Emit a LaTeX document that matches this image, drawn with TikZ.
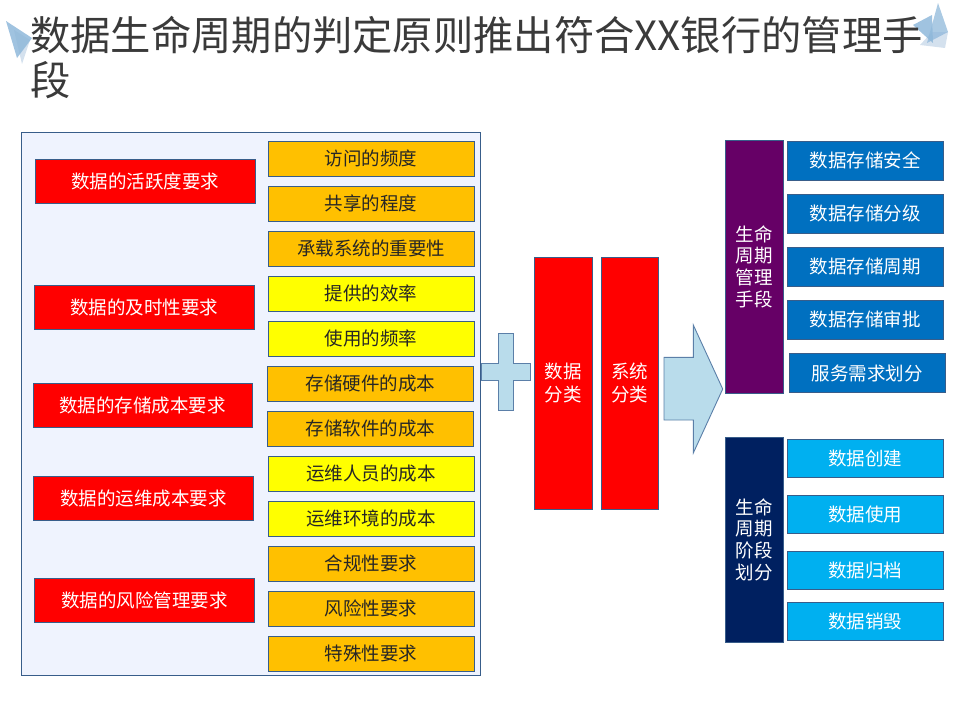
\documentclass[tikz,border=0pt]{standalone}
\usepackage{fontspec}
\setmainfont{Noto Sans CJK SC}
\definecolor{bordc}{HTML}{385D8A}
\definecolor{panelc}{HTML}{EFF3FE}
\definecolor{redc}{HTML}{FF0000}
\definecolor{orangec}{HTML}{FFC000}
\definecolor{yellowc}{HTML}{FFFF00}
\definecolor{purplec}{HTML}{660066}
\definecolor{bluec}{HTML}{0070C0}
\definecolor{navyc}{HTML}{002060}
\definecolor{cyanc}{HTML}{00B0F0}
\definecolor{shapec}{HTML}{B9DCEB}
\definecolor{shapeb}{HTML}{5B7FA8}
\definecolor{titlec}{HTML}{3A3A3A}
\definecolor{tri1}{HTML}{8FB8DA}
\definecolor{tri2}{HTML}{C9D9EA}
\begin{document}
\begin{tikzpicture}[x=1pt,y=-1pt,
  box/.style={draw=bordc, line width=0.9pt, inner sep=0pt, rectangle,
     font=\fontsize{18.5}{22}\selectfont},
  reqbox/.style={box, fill=redc, text=white, minimum width=220pt, minimum height=44pt},
  itembox/.style={box, text=black!85, minimum width=206pt, minimum height=35pt},
  orbox/.style={itembox, fill=orangec},
  yebox/.style={itembox, fill=yellowc},
  tallbox/.style={box, text=white, align=center, font=\fontsize{18.5}{23.3}\selectfont},
  sidebox/.style={box, text=white, align=center, minimum width=58pt, font=\fontsize{18.5}{21.7}\selectfont},
  bluebox/.style={box, fill=bluec, text=white, minimum width=156pt, minimum height=39pt},
  cyanbox/.style={box, fill=cyanc, text=white, minimum width=156pt, minimum height=38pt},
  bigshape/.style={fill=shapec, draw=shapeb, line width=0.9pt},
  titlefont/.style={font=\fontsize{40.3}{46}\selectfont, inner sep=0pt, anchor=base west}
]
\useasboundingbox (0,0) rectangle (960,720);

% decorative triangles
\fill[tri2, opacity=0.8] (14,30) -- (30,40) -- (22,64) -- cycle;
\fill[tri1, opacity=0.85] (6,21) -- (32,38) -- (17,58) -- cycle;
\fill[tri2, opacity=0.8] (932,32) -- (948,32) -- (945,48) -- (920,45) -- cycle;
\fill[tri1, opacity=0.85] (913,25) -- (932,15) -- (933,43) -- cycle;
\fill[tri1, opacity=0.75] (938,3) -- (948,32) -- (927,43) -- cycle;

% title
\node[titlefont, text=titlec] (title1) at (30,50) {数据生命周期的判定原则推出符合XX银行的管理手};
\node[titlefont, text=titlec] (title2) at (30,95) {段};

% left panel
\node[draw=bordc, fill=panelc, line width=0.9pt, inner sep=0pt, minimum width=458.5pt, minimum height=542.5pt] (panel) at (251,403.8) {};

% requirement boxes
\node[reqbox, minimum width=220.7pt] (req1) at (145.3,181.2) {数据的活跃度要求};
\node[reqbox] (req2) at (144,307) {数据的及时性要求};
\node[reqbox, minimum width=219pt] (req3) at (142.5,405) {数据的存储成本要求};
\node[reqbox] (req4) at (143.5,498.8) {数据的运维成本要求};
\node[reqbox] (req5) at (144.5,600) {数据的风险管理要求};

% item boxes
\node[orbox] (it1) at (371,158.8) {访问的频度};
\node[orbox] (it2) at (371,203.8) {共享的程度};
\node[orbox] (it3) at (371,248.8) {承载系统的重要性};
\node[yebox] (it4) at (371,293.8) {提供的效率};
\node[yebox] (it5) at (371,338.8) {使用的频率};
\node[orbox] (it6) at (370.5,383.8) {存储硬件的成本};
\node[orbox] (it7) at (370.5,428.8) {存储软件的成本};
\node[yebox] (it8) at (371,473.8) {运维人员的成本};
\node[yebox] (it9) at (371,518.8) {运维环境的成本};
\node[orbox] (it10) at (371,563.8) {合规性要求};
\node[orbox] (it11) at (371,608.8) {风险性要求};
\node[orbox] (it12) at (371,653.8) {特殊性要求};

% plus shape
\draw[bigshape] (481,363.7) -- (498,363.7) -- (498,333.3) -- (513.7,333.3) -- (513.7,363.7) -- (530.7,363.7) -- (530.7,380) -- (513.7,380) -- (513.7,410.7) -- (498,410.7) -- (498,380) -- (481,380) -- cycle;

% classification boxes
\node[tallbox, fill=redc, minimum width=58pt, minimum height=251.7pt] (cls1) at (563.3,383.2) {数据\\分类};
\node[tallbox, fill=redc, minimum width=57pt, minimum height=251.7pt] (cls2) at (629.8,383.2) {系统\\分类};

% arrow shape
\draw[bigshape] (664,357.3) -- (693.3,357.3) -- (693.3,325) -- (722.7,389) -- (693.3,453) -- (693.3,420) -- (664,420) -- cycle;

% management group
\node[sidebox, fill=purplec, minimum height=253pt] (mgmt) at (754,266.5) {生命\\周期\\管理\\手段};
\node[bluebox] (m1) at (865.3,160.8) {数据存储安全};
\node[bluebox] (m2) at (865.3,213.8) {数据存储分级};
\node[bluebox] (m3) at (865.3,266.8) {数据存储周期};
\node[bluebox] (m4) at (865.3,319.7) {数据存储审批};
\node[bluebox, minimum width=156.7pt] (m5) at (867.3,373) {服务需求划分};

% stage group
\node[sidebox, fill=navyc, minimum height=204.7pt] (stage) at (754,539.7) {生命\\周期\\阶段\\划分};
\node[cyanbox] (s1) at (865.3,458) {数据创建};
\node[cyanbox] (s2) at (865.3,514.5) {数据使用};
\node[cyanbox] (s3) at (865.3,570) {数据归档};
\node[cyanbox] (s4) at (865.3,621.7) {数据销毁};
\end{tikzpicture}
\end{document}
